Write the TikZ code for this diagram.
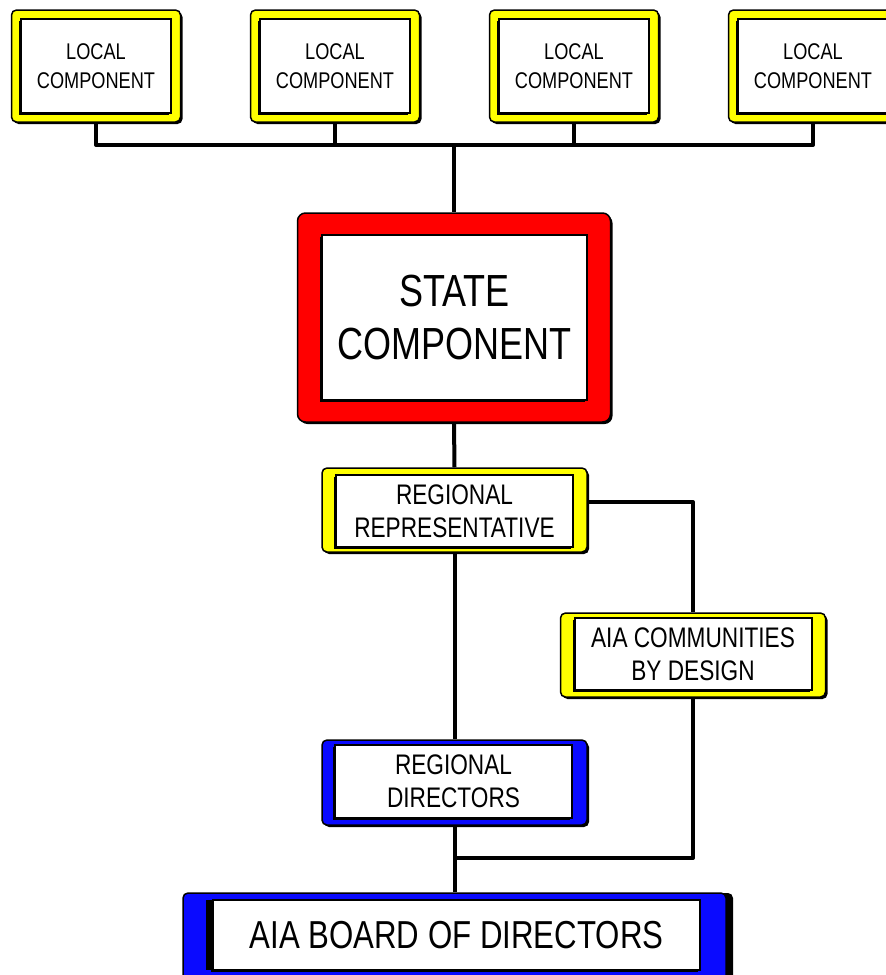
\documentclass[tikz,border=0pt]{standalone}
\usepackage{fontspec}
\newfontfamily\nar[FakeStretch=0.8]{Liberation Sans}
\usetikzlibrary{shadows}
\definecolor{fy}{RGB}{255,255,0}
\definecolor{fr}{RGB}{255,0,0}
\definecolor{fb}{RGB}{10,10,255}
\begin{document}
\begin{tikzpicture}[x=1pt,y=-1pt,
  outer/.style={rectangle, rounded corners=5pt,
    draw=black, line width=1.5pt, inner sep=0pt,
    general shadow={fill=black, shadow xshift=2pt, shadow yshift=-2pt}},
  innerbox/.style={rectangle, draw=black, line width=2pt, fill=white, inner sep=0pt, align=center,
    general shadow={fill=black, shadow xshift=-2pt, shadow yshift=-1.5pt}},
  conn/.style={line width=4pt, line join=round},
  fl/.style={font=\nar\fontsize{22.7}{28.5}\selectfont},
  fm/.style={font=\nar\fontsize{28.3}{33}\selectfont},
  fs/.style={font=\nar\fontsize{45}{53}\selectfont},
  fbd/.style={font=\nar\fontsize{39}{46}\selectfont}]
\clip (0,0) rectangle (886,975);
\fill[white] (0,0) rectangle (886,975);

% local components
\foreach \n/\x in {l1/96,l2/335,l3/574,l4/813}{
  \node[outer, fill=fy, minimum width=169pt, minimum height=112pt] (\n) at (\x,66) {};
  \node[innerbox, fl, minimum width=150pt, minimum height=94pt] (\n t) at (\x,66) {LOCAL\\COMPONENT};
}

% state component
\node[outer, fill=fr, rounded corners=8pt,
  minimum width=313pt, minimum height=209pt] (st) at (454,317.5) {};
\node[innerbox, fs, minimum width=265pt, minimum height=165pt] (stt) at (454.5,317.5) {STATE\\COMPONENT};

% regional representative
\node[outer, fill=fy, minimum width=265pt, minimum height=84pt] (rr) at (454.5,510) {};
\node[innerbox, fm, minimum width=237pt, minimum height=72pt] (rrt) at (454.5,511) {REGIONAL\\REPRESENTATIVE};

% AIA communities by design
\node[outer, fill=fy, minimum width=265pt, minimum height=84pt] (cbd) at (693,655) {};
\node[innerbox, fm, minimum width=237pt, minimum height=72pt] (cbdt) at (693,654) {AIA COMMUNITIES\\BY DESIGN};

% regional directors
\node[outer, fill=fb, minimum width=265pt, minimum height=85pt] (rd) at (454.5,782.5) {};
\node[innerbox, fm, minimum width=237pt, minimum height=73pt] (rdt) at (453.5,781.5) {REGIONAL\\DIRECTORS};

% board of directors
\node[outer, fill=fb, minimum width=543pt, minimum height=92pt,
  general shadow={fill=black, shadow xshift=7pt, shadow yshift=0pt}] (bd) at (454.5,939) {};
\node[innerbox, fbd, minimum width=487pt, minimum height=70pt,
  general shadow={fill=black, shadow xshift=-7pt, shadow yshift=0pt}] (bdt) at (456.5,935) {AIA BOARD OF DIRECTORS};

% connectors
\coordinate (bus) at (454,145);
\coordinate (j) at (454,858);
\draw[conn] (l1.south) |- (l4.south |- bus) -- (l4.south);
\draw[conn] (l2.south) -- (l2.south |- bus);
\draw[conn] (l3.south) -- (l3.south |- bus);
\draw[conn] (bus) -- (st.north);
\draw[conn] (st.south) -- (rr.north);
\draw[conn] (rr.south) -- (rd.north);
\draw[conn] (rd.south) -- (bd.north);
\draw[conn] ([yshift=8pt]rr.east) -| (cbd.north);
\draw[conn] (cbd.south) |- (j);
\end{tikzpicture}
\end{document}
